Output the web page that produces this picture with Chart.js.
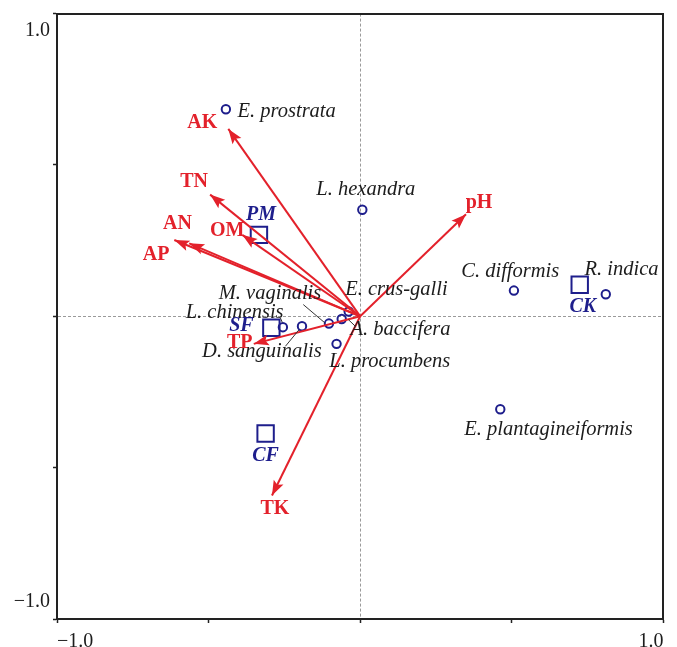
<!DOCTYPE html>
<html>
<head>
<meta charset="utf-8">
<script src="https://cdn.jsdelivr.net/npm/chart.js@4"></script>
<style>
  html, body { margin: 0; padding: 0; background: #fff; }
  canvas { display: block; }
</style>
</head>
<body>
<canvas id="c" width="677" height="647"></canvas>
<script>
// ---------- data ----------
const tickValues = [-1, -0.5, 0, 0.5, 1];
const tickLabels = { '-1': '\u22121.0', '1': '1.0' };

const speciesNames = ['E. prostrata', 'L. hexandra', 'C. difformis', 'R. indica', 'E. plantagineiformis',
  'L. procumbens', 'A. baccifera', 'E. crus-galli', 'M. vaginalis', 'L. chinensis', 'D. sanguinalis'];
const speciesX = [-0.443, 0.007, 0.507, 0.810, 0.462, -0.078, -0.061, -0.038, -0.103, -0.255, -0.192];
const speciesY = [0.684, 0.352, 0.085, 0.073, -0.307, -0.091, -0.009, 0.016, -0.024, -0.036, -0.033];

const sampleNames = ['PM', 'SF', 'CF', 'CK'];
const sampleX = [-0.334, -0.293, -0.312, 0.724];
const sampleY = [0.269, -0.038, -0.387, 0.104];

const envNames = ['AK', 'TN', 'OM', 'AN', 'AP', 'TP', 'pH', 'TK'];
const envX = [-0.435, -0.495, -0.389, -0.564, -0.613, -0.351, 0.349, -0.291];
const envY = [0.619, 0.402, 0.269, 0.241, 0.252, -0.091, 0.337, -0.592];

// ---------- styles / label placement (pixels) ----------
const RED = '#e3212b';
const NAVY = '#1e1e8c';
const TXT = '#1c1c1c';
const SERIF = '"Liberation Serif", "DejaVu Serif", serif';

const speciesLabelPos = [
  { dx: 11.6, dy: 2.3, align: 'left' },
  { dx: 3.5, dy: -20, align: 'center' },
  { dx: 45.3, dy: -18.6, align: 'right' },
  { dx: -21.3, dy: -24.4, align: 'left' },
  { dx: -36, dy: 20, align: 'left' },
  { dx: -7.3, dy: 17.8, align: 'left' },
  { dx: 8.7, dy: 10.3, align: 'left' },
  { dx: -3.5, dy: -21.7, align: 'left' },
  { dx: -7.7, dy: -29.8, align: 'right' },
  { dx: 0.7, dy: -14.2, align: 'right' },
  { dx: 19.7, dy: 25, align: 'right' }
];
const leaderLines = [
  null, null, null, null, null, null,
  [6.7, 0.6, 14.4, 8],
  null,
  [-25.7, -19, -4, -0.6],
  [-2.6, -9.5, -0.6, -4.8],
  [-16.6, 20, -3, 3.5]
];
const sampleLabelPos = [ [2, -20], [-30, -1.5], [0, 22], [3, 22] ];
const envLabelPos = [ [-26, -6], [-16, -13], [-15, -4], [-11.7, -19.4], [-18.3, 15], [-14, -1], [13, -11], [3, 13] ];

// ---------- datasets ----------
const datasets = [];
envNames.forEach((n, i) => {
  datasets.push({
    label: n, type: 'line', isArrow: true,
    data: [{ x: 0, y: 0 }, { x: envX[i], y: envY[i] }],
    borderColor: RED, borderWidth: 2, pointRadius: 0, fill: false, tension: 0
  });
});
const sampleIndex = datasets.length;
datasets.push({
  label: 'samples', type: 'scatter',
  data: sampleX.map((x, i) => ({ x, y: sampleY[i] })),
  pointStyle: 'rect', pointRadius: 11.6, borderColor: NAVY, borderWidth: 2,
  backgroundColor: 'rgba(0,0,0,0)'
});
const speciesIndex = datasets.length;
datasets.push({
  label: 'species', type: 'scatter',
  data: speciesX.map((x, i) => ({ x, y: speciesY[i] })),
  pointStyle: 'circle', pointRadius: 4.2, borderColor: NAVY, borderWidth: 2,
  backgroundColor: 'rgba(0,0,0,0)'
});

// ---------- plugin: arrow heads and text labels ----------
const annot = {
  id: 'annot',
  afterDatasetDraw(chart, args) {
    const ds = chart.data.datasets[args.index];
    if (!ds.isArrow) return;
    const pts = args.meta.data;
    const a = pts[0], b = pts[1];
    const ang = Math.atan2(b.y - a.y, b.x - a.x);
    const L = 15, W = 5.4;
    const ctx = chart.ctx;
    ctx.save();
    ctx.fillStyle = RED;
    ctx.beginPath();
    ctx.moveTo(b.x, b.y);
    ctx.lineTo(b.x - L * Math.cos(ang) + W * Math.sin(ang), b.y - L * Math.sin(ang) - W * Math.cos(ang));
    ctx.lineTo(b.x - L * 0.8 * Math.cos(ang), b.y - L * 0.8 * Math.sin(ang));
    ctx.lineTo(b.x - L * Math.cos(ang) - W * Math.sin(ang), b.y - L * Math.sin(ang) + W * Math.cos(ang));
    ctx.closePath();
    ctx.fill();
    ctx.restore();
  },
  afterDatasetsDraw(chart) {
    const ctx = chart.ctx;
    ctx.save();
    ctx.textBaseline = 'middle';
    // species labels
    const sp = chart.getDatasetMeta(speciesIndex).data;
    ctx.font = 'italic 20.5px ' + SERIF;
    ctx.fillStyle = TXT;
    speciesNames.forEach((n, i) => {
      const p = sp[i], o = speciesLabelPos[i];
      ctx.textAlign = o.align;
      ctx.fillText(n, p.x + o.dx, p.y + o.dy);
      const l = leaderLines[i];
      if (l) {
        ctx.strokeStyle = '#333';
        ctx.lineWidth = 1;
        ctx.beginPath();
        ctx.moveTo(p.x + l[0], p.y + l[1]);
        ctx.lineTo(p.x + l[2], p.y + l[3]);
        ctx.stroke();
      }
    });
    // sample labels
    const sm = chart.getDatasetMeta(sampleIndex).data;
    ctx.font = 'italic bold 20px ' + SERIF;
    ctx.fillStyle = NAVY;
    ctx.textAlign = 'center';
    sampleNames.forEach((n, i) => {
      const p = sm[i], o = sampleLabelPos[i];
      ctx.fillText(n, p.x + o[0], p.y + o[1]);
    });
    // environmental labels
    ctx.font = 'bold 20px ' + SERIF;
    ctx.fillStyle = RED;
    envNames.forEach((n, i) => {
      const p = chart.getDatasetMeta(i).data[1], o = envLabelPos[i];
      ctx.fillText(n, p.x + o[0], p.y + o[1]);
    });
    ctx.restore();
  }
};

const zeroGrid = ctx => (ctx.tick && ctx.tick.value === 0) ? '#9a9a9a' : 'rgba(0,0,0,0)';
const setTicks = axis => { axis.ticks = tickValues.map(v => ({ value: v })); };

new Chart(document.getElementById('c'), {
  type: 'scatter',
  data: { datasets },
  plugins: [annot],
  options: {
    responsive: false,
    devicePixelRatio: 1,
    animation: false,
    layout: { padding: { top: 11, right: 10, left: 0, bottom: 0 } },
    plugins: { legend: { display: false }, tooltip: { enabled: false } },
    scales: {
      x: {
        type: 'linear', position: 'bottom', min: -1, max: 1,
        afterBuildTicks: setTicks,
        afterFit: s => { s.height = 28; s.paddingLeft = 0; s.paddingRight = 0; },
        ticks: {
          autoSkip: false, maxRotation: 0, align: 'inner', padding: 7,
          color: TXT, font: { family: SERIF, size: 20 },
          callback: v => tickLabels[String(v)] || ''
        },
        grid: { color: zeroGrid, lineWidth: 1, tickColor: '#222', tickWidth: 1.5, tickLength: 4, tickBorderDash: [] },
        border: { display: true, color: '#222', width: 2, dash: [3, 2] }
      },
      y: {
        type: 'linear', position: 'left', min: -1, max: 1,
        afterBuildTicks: setTicks,
        afterFit: s => { s.width = 57; s.paddingTop = 0; s.paddingBottom = 0; },
        ticks: {
          autoSkip: false, padding: 3,
          color: TXT, font: { family: SERIF, size: 20, lineHeight: 1.75 },
          callback: v => v === 1 ? ['', tickLabels['1']] : (v === -1 ? [tickLabels['-1'], ''] : '')
        },
        grid: { color: zeroGrid, lineWidth: 1, tickColor: '#222', tickWidth: 1.5, tickLength: 4, tickBorderDash: [] },
        border: { display: true, color: '#222', width: 2, dash: [3, 2] }
      },
      x2: {
        type: 'linear', position: 'top', min: -1, max: 1,
        ticks: { display: false }, grid: { display: false, drawTicks: false },
        afterFit: s => { s.height = 0; s.paddingLeft = 0; s.paddingRight = 0; },
        border: { display: true, color: '#222', width: 2 }
      },
      y2: {
        type: 'linear', position: 'right', min: -1, max: 1,
        ticks: { display: false }, grid: { display: false, drawTicks: false },
        afterFit: s => { s.width = 0; s.paddingTop = 0; s.paddingBottom = 0; },
        border: { display: true, color: '#222', width: 2 }
      }
    }
  }
});
</script>
</body>
</html>
